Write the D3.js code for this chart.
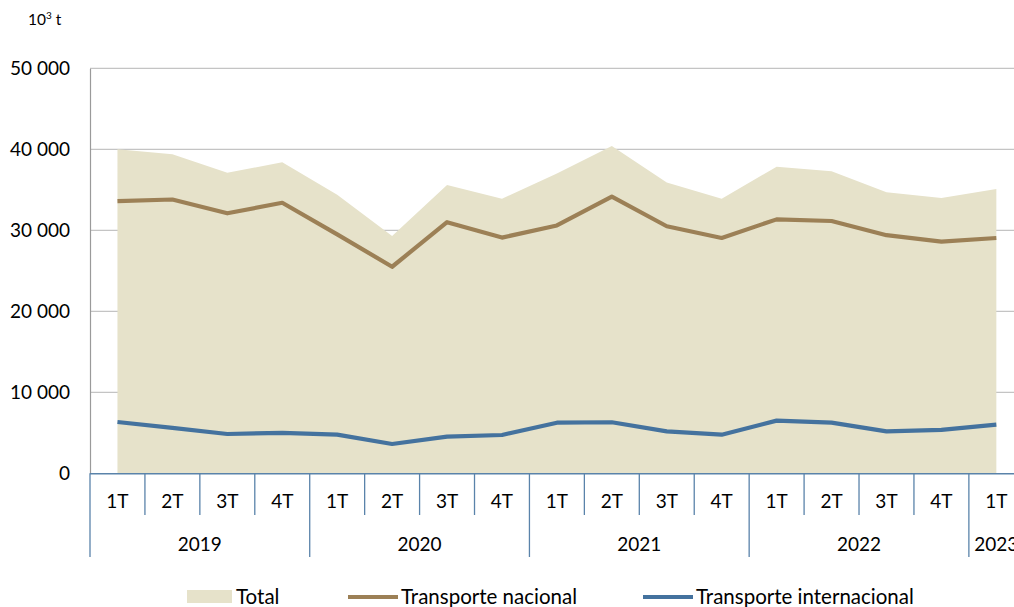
<!DOCTYPE html>
<html>
<head>
<meta charset="utf-8">
<script src="https://cdn.jsdelivr.net/npm/d3@7"></script>
<style>
  body { margin: 0; background: #fff; }
  svg { display: block; font-family: Lato, "Open Sans", sans-serif; }
</style>
</head>
<body>
<svg width="1014" height="607"></svg>
<script>
// data (10^3 t)
const years = ['2019', '2020', '2021', '2022', '2023']
const quarters = ['1T', '2T', '3T', '4T', '1T', '2T', '3T', '4T', '1T', '2T', '3T', '4T', '1T', '2T', '3T', '4T', '1T']
const quarterYear = ['2019', '2019', '2019', '2019', '2020', '2020', '2020', '2020', '2021', '2021', '2021', '2021', '2022', '2022', '2022', '2022', '2023']
const total = [40000, 39400, 37100, 38400, 34400, 29300, 35600, 33900, 37000, 40400, 35900, 33900, 37850, 37300, 34700, 34000, 35100]
const nacional = [33600, 33800, 32100, 33400, 29500, 25500, 31000, 29100, 30600, 34150, 30500, 29050, 31350, 31150, 29400, 28600, 29050]
const internacional = [6330, 5600, 4850, 5000, 4770, 3620, 4520, 4730, 6250, 6300, 5180, 4770, 6500, 6250, 5180, 5350, 6000]
const yTicks = [0, 10000, 20000, 30000, 40000, 50000]

const svg = d3.select('svg')
const left = 90, bandW = 54.93, y0 = 473.3, yTop = 68.3
const idx = d3.range(quarters.length)

const x = d3.scaleBand().domain(idx).range([left, left + bandW * quarters.length])
const cx = i => x(i) + x.bandwidth() / 2
const y = d3.scaleLinear().domain([0, 50000]).range([y0, yTop])
const fmt = v => d3.format(',')(v).replace(/,/g, ' ')

// gridlines
svg.append('g').selectAll('line')
  .data(yTicks.filter(t => t > 0)).enter().append('line')
  .attr('x1', left).attr('x2', 1014)
  .attr('y1', d => y(d)).attr('y2', d => y(d))
  .attr('stroke', '#c4c4c4').attr('stroke-width', 1.2)

// total area
svg.append('path')
  .datum(idx)
  .attr('fill', '#e6e2ca')
  .attr('d', d3.area().x(i => cx(i)).y0(y(0)).y1(i => y(total[i])))

// y axis
const yAxis = d3.axisLeft(y).tickValues(yTicks).tickSize(0).tickPadding(20).tickFormat(fmt)
const ya = svg.append('g').attr('transform', `translate(${left},0)`).call(yAxis)
ya.select('.domain').attr('stroke', '#9a9a9a').attr('stroke-width', 1.2)
ya.selectAll('text').attr('font-size', 19).attr('font-family', 'Lato').attr('fill', '#000')

svg.append('text').attr('x', 28).attr('y', 25).attr('font-size', 15.5)
  .html('10<tspan dy="-6" font-size="10">3</tspan><tspan dy="6"> t</tspan>')

// lines
const line = arr => d3.line().x(i => cx(i)).y(i => y(arr[i]))
svg.append('path').datum(idx).attr('fill', 'none').attr('stroke', '#9c8056')
  .attr('stroke-width', 4.2).attr('stroke-linejoin', 'round').attr('d', line(nacional))
svg.append('path').datum(idx).attr('fill', 'none').attr('stroke', '#44729e')
  .attr('stroke-width', 4.2).attr('stroke-linejoin', 'round').attr('d', line(internacional))

// x axis: quarters and years
const axisCol = '#5a83aa'
svg.append('line').attr('x1', left).attr('x2', 1014).attr('y1', y0 + 0.5).attr('y2', y0 + 0.5)
  .attr('stroke', axisCol).attr('stroke-width', 1.5)

svg.append('g').selectAll('line')
  .data(idx.concat([quarters.length])).enter().append('line')
  .attr('x1', i => left + bandW * i).attr('x2', i => left + bandW * i)
  .attr('y1', y0).attr('y2', i => (i === 0 || quarterYear[i] !== quarterYear[i - 1]) ? 557 : 515)
  .attr('stroke', axisCol).attr('stroke-width', 1.3)

svg.append('g').selectAll('text')
  .data(idx).enter().append('text')
  .attr('x', i => cx(i)).attr('y', 508)
  .attr('text-anchor', 'middle').attr('font-size', 19)
  .text(i => quarters[i])

svg.append('g').selectAll('text')
  .data(years).enter().append('text')
  .attr('x', yr => {
    const ii = idx.filter(i => quarterYear[i] === yr)
    return (x(ii[0]) + x(ii[ii.length - 1]) + x.bandwidth()) / 2
  })
  .attr('y', 551).attr('text-anchor', 'middle').attr('font-size', 19)
  .text(d => d)

// legend
const lg = svg.append('g').attr('font-size', 20.5)
lg.append('rect').attr('x', 187).attr('y', 590).attr('width', 45).attr('height', 13).attr('fill', '#e6e2ca')
lg.append('text').attr('x', 236).attr('y', 604).text('Total')
lg.append('line').attr('x1', 348).attr('x2', 398).attr('y1', 597).attr('y2', 597)
  .attr('stroke', '#9c8056').attr('stroke-width', 4.2)
lg.append('text').attr('x', 401).attr('y', 604).text('Transporte nacional')
lg.append('line').attr('x1', 643).attr('x2', 693).attr('y1', 597).attr('y2', 597)
  .attr('stroke', '#44729e').attr('stroke-width', 4.2)
lg.append('text').attr('x', 696).attr('y', 604).text('Transporte internacional')
</script>
</body>
</html>
